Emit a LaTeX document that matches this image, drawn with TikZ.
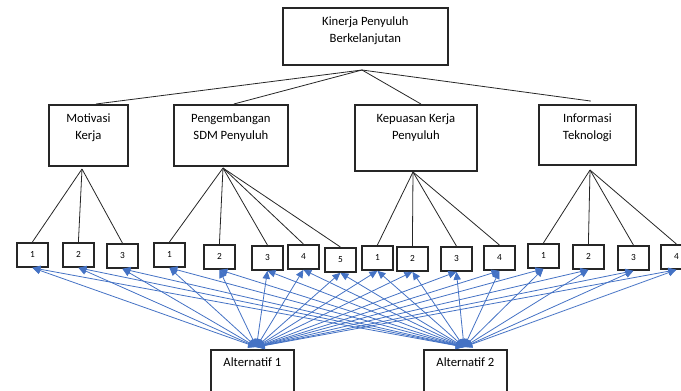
\documentclass[tikz,border=0pt]{standalone}
\usepackage{fontspec}
\setmainfont{Carlito}
\usetikzlibrary{arrows.meta}
\definecolor{arrowblue}{HTML}{4472C4}
\definecolor{boxline}{HTML}{262626}
\begin{document}
\begin{tikzpicture}[x=0.75pt,y=-0.75pt,
  box/.style={draw=boxline, line width=1.35pt, fill=white, inner sep=0pt, anchor=north west},
  bigtxt/.style={font=\fontsize{9.5}{12.9}\selectfont, align=center, inner sep=0pt},
  numbox/.style={box, minimum width=23.25pt, minimum height=18pt, font=\fontsize{7}{8}\selectfont},
  fan/.style={draw=black!85, line width=0.6pt},
  conn/.style={draw=arrowblue, line width=0.6pt,
    {Triangle[length=6pt,width=5.5pt]}-{Triangle[length=6pt,width=5.5pt]}}]
\useasboundingbox (0,0) rectangle (681,390);

% top box
\node[box, minimum width=123.75pt, minimum height=42.75pt,
  label={[bigtxt, anchor=north, yshift=-7.2pt]north:Kinerja Penyuluh\\Berkelanjutan}] (top) at (282,7) {};

% level 2
\node[box, minimum width=59.25pt, minimum height=45.75pt,
  label={[bigtxt, anchor=north, yshift=-7.2pt]north:Motivasi\\Kerja}] (mot) at (48,104) {};
\node[box, minimum width=85.5pt, minimum height=45.75pt,
  label={[bigtxt, anchor=north, yshift=-7.2pt]north:Pengembangan\\SDM Penyuluh}] (pen) at (173,104) {};
\node[box, minimum width=91.5pt, minimum height=49.5pt,
  label={[bigtxt, anchor=north, yshift=-7.2pt]north:Kepuasan Kerja\\Penyuluh}] (kep) at (354,104) {};
\node[box, minimum width=72.75pt, minimum height=45pt,
  label={[bigtxt, anchor=north, yshift=-7.2pt]north:Informasi\\Teknologi}] (inf) at (538,104) {};

% connectors from top
\coordinate (tc) at (362,70);
\draw[fan] (tc) -- ([xshift=5.6pt]mot.north);
\draw[fan] (tc) -- ([xshift=2.2pt]pen.north);
\draw[fan] (tc) -- ([xshift=3.8pt]kep.north);
\draw[fan] (tc) -- ([xshift=2.6pt,yshift=2.2pt]inf.north);

% level 3 boxes
\node[numbox] (m1) at (16,242) {1};
\node[numbox] (m2) at (62,242) {2};
\node[numbox] (m3) at (106,243) {3};
\node[numbox] (p1) at (153,242) {1};
\node[numbox] (p2) at (203,244) {2};
\node[numbox] (p3) at (251,245) {3};
\node[numbox] (p4) at (287,244) {4};
\node[numbox] (p5) at (324,247) {5};
\node[numbox] (k1) at (361,245) {1};
\node[numbox] (k2) at (396,246) {2};
\node[numbox] (k3) at (440,246) {3};
\node[numbox] (k4) at (483,245) {4};
\node[numbox] (i1) at (527,243) {1};
\node[numbox] (i2) at (572,244) {2};
\node[numbox] (i3) at (617,245) {3};
\node[numbox] (i4) at (660,244) {4};

% fans to level 3
\coordinate (mc) at (82,169);
\coordinate (pc) at (223,168);
\coordinate (kc) at (413,172);
\coordinate (ic) at (590,170);
\foreach \b in {m1,m2,m3} {\draw[fan] (mc) -- (\b.north);}
\foreach \b in {p1,p2,p3,p4,p5} {\draw[fan] (pc) -- (\b.north);}
\foreach \b in {k1,k2,k3,k4} {\draw[fan] (kc) -- (\b.north);}
\foreach \b in {i1,i2,i3,i4} {\draw[fan] (ic) -- (\b.north);}

% alternatives
\node[box, minimum width=62.25pt, minimum height=37.5pt,
  label={[bigtxt, anchor=north, yshift=-6pt]north:Alternatif 1}] (alt1) at (210,349) {};
\node[box, minimum width=62.25pt, minimum height=37.5pt,
  label={[bigtxt, anchor=north, yshift=-6pt]north:Alternatif 2}] (alt2) at (423,349) {};
\coordinate (a1) at ([xshift=3pt,yshift=1.5pt]alt1.north);
\coordinate (a2) at ([xshift=-1pt,yshift=1.5pt]alt2.north);

\foreach \b in {m1,m2,m3,p1,p2,p3,p4,p5,k1,k2,k3,k4,i1,i2,i3,i4} {
  \draw[conn] (a1) -- (\b.south);
  \draw[conn] (a2) -- (\b.south);
}
\end{tikzpicture}
\end{document}
